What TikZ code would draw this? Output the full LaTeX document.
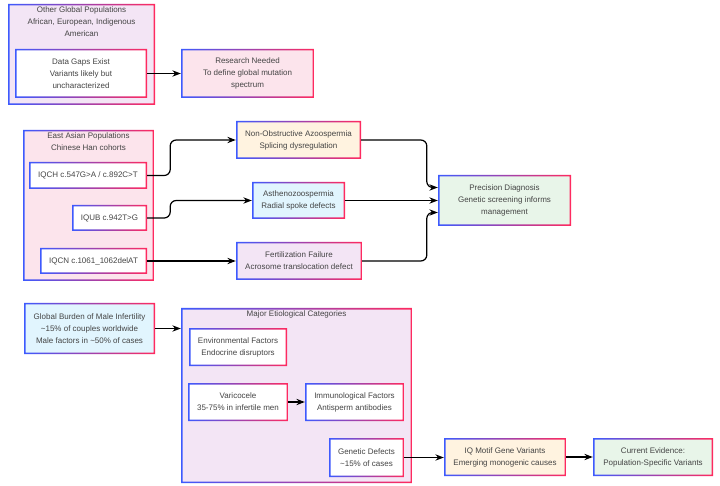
\documentclass[tikz,border=0pt]{standalone}
\usepackage{fontspec}
\setsansfont{Liberation Sans}
\usetikzlibrary{arrows.meta}
\definecolor{edgeblue}{HTML}{3D5AFE}
\definecolor{edgered}{HTML}{FF2A5F}
\definecolor{inktext}{HTML}{444444}
\definecolor{lilac}{HTML}{F3E5F5}
\definecolor{blush}{HTML}{FCE4EC}
\definecolor{peach}{HTML}{FFF3E0}
\definecolor{sky}{HTML}{E1F5FE}
\definecolor{mint}{HTML}{E8F5E9}

\begin{document}
\begin{tikzpicture}[x=1pt,y=-1pt,>=Stealth,font=\sffamily\fontsize{8}{12}\selectfont,
  box/.style={fill=#1,text=inktext,align=center,inner sep=0pt,
    path picture={\shade[left color=edgeblue,right color=edgered,even odd rule]
      (path picture bounding box.south west) rectangle (path picture bounding box.north east)
      ([shift={(1.5pt,1.5pt)}]path picture bounding box.south west)
      rectangle ([shift={(-1.5pt,-1.5pt)}]path picture bounding box.north east);}},
  ttl/.style={text=inktext,align=center,inner sep=0pt},
  link/.style={->,line width=1.2pt,rounded corners=6pt}]
  \useasboundingbox[fill=white] (0,0) rectangle (720,486);

  % other populations
  \node[box=lilac,minimum width=147,minimum height=101] (other) at (81.5,54.5) {};
  \node[ttl] (othert) at (81.5,22) {Other Global Populations\\African, European, Indigenous\\American};
  \node[box=white,minimum width=132,minimum height=49] (gaps) at (81,73.5)
    {Data Gaps Exist\\Variants likely but\\uncharacterized};
  \node[box=blush,minimum width=133,minimum height=49] (research) at (247.5,73.5)
    {Research Needed\\To define global mutation\\spectrum};
  \draw[link] (gaps) -- (research);

  % east asian cohorts
  \node[box=blush,minimum width=131,minimum height=151] (east) at (88.5,205.5) {};
  \node[ttl] (eastt) at (88.5,141.5) {East Asian Populations\\Chinese Han cohorts};
  \node[box=white,minimum width=118,minimum height=27] (iqch) at (88,175.5) {IQCH c.547G>A / c.892C>T};
  \node[box=white,minimum width=75,minimum height=26] (iqub) at (109.5,218) {IQUB c.942T>G};
  \node[box=white,minimum width=107,minimum height=26] (iqcn) at (93.5,261) {IQCN c.1061\_1062delAT};

  \node[box=peach,minimum width=125,minimum height=38] (noa) at (298.5,140)
    {Non-Obstructive Azoospermia\\Splicing dysregulation};
  \node[box=sky,minimum width=93,minimum height=37] (astheno) at (298.5,200.5)
    {Asthenozoospermia\\Radial spoke defects};
  \node[box=lilac,minimum width=126,minimum height=38] (fert) at (299,261)
    {Fertilization Failure\\Acrosome translocation defect};
  \node[box=mint,minimum width=133,minimum height=51] (precision) at (504.5,200.5)
    {Precision Diagnosis\\Genetic screening informs\\management};

  \draw[link] (iqch.east) -- ++(23,0) |- (noa.west);
  \draw[link] (iqub.east) -- ++(23,0) |- (astheno.west);
  \draw[link] (iqcn) -- (fert);
  \draw[link] (noa.east) -| ([xshift=-11pt,yshift=13pt]precision.west) -- ([yshift=13pt]precision.west);
  \draw[link] (astheno) -- (precision);
  \draw[link] (fert.east) -| ([xshift=-11pt,yshift=-12pt]precision.west) -- ([yshift=-12pt]precision.west);

  % burden and etiology
  \node[box=sky,minimum width=131,minimum height=51] (burden) at (89.5,328.5)
    {Global Burden of Male Infertility\\\textasciitilde15\% of couples worldwide\\Male factors in \textasciitilde50\% of cases};
  \node[box=lilac,minimum width=231,minimum height=175] (major) at (296.5,395.5) {};
  \node[ttl] (majort) at (296.5,314) {Major Etiological Categories};
  \node[box=white,minimum width=98,minimum height=38] (env) at (238,347)
    {Environmental Factors\\Endocrine disruptors};
  \node[box=white,minimum width=100,minimum height=38] (vari) at (238,402)
    {Varicocele\\35-75\% in infertile men};
  \node[box=white,minimum width=99,minimum height=38] (immuno) at (354.5,402)
    {Immunological Factors\\Antisperm antibodies};
  \node[box=white,minimum width=75,minimum height=39] (genetic) at (366.5,457.5)
    {Genetic Defects\\\textasciitilde15\% of cases};
  \node[box=peach,minimum width=122,minimum height=38] (iqmotif) at (505,457)
    {IQ Motif Gene Variants\\Emerging monogenic causes};
  \node[box=mint,minimum width=120,minimum height=38] (evidence) at (653,457)
    {Current Evidence:\\Population-Specific Variants};

  \draw[link] (burden.east) -- (burden.east -| major.west);
  \draw[link] (vari) -- (immuno);
  \draw[link] (genetic.east) -- (genetic.east -| iqmotif.west);
  \draw[link] (iqmotif.east) -- (iqmotif.east -| evidence.west);
\end{tikzpicture}
\end{document}
